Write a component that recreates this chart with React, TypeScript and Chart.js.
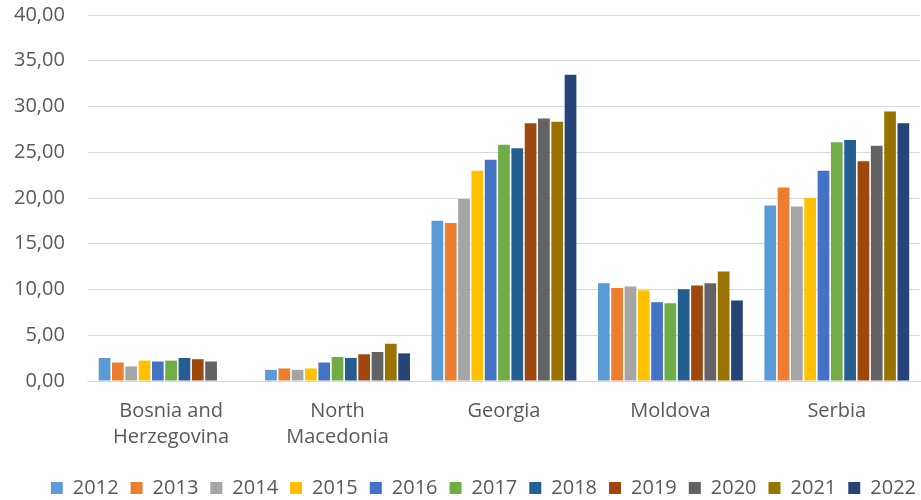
import React, { useEffect, useRef } from "react";
import { Chart, registerables } from "chart.js";

Chart.register(...registerables);

const categories: (string | string[])[] = [
  ["Bosnia and", "Herzegovina"],
  ["North", "Macedonia"],
  "Georgia",
  "Moldova",
  "Serbia",
];

const years = ["2012", "2013", "2014", "2015", "2016", "2017", "2018", "2019", "2020", "2021", "2022"];

// values per year across [Bosnia, North Macedonia, Georgia, Moldova, Serbia]
const v2012 = [2.52, 1.22, 17.52, 10.69, 19.19];
const v2013 = [2.02, 1.37, 17.27, 10.17, 21.16];
const v2014 = [1.59, 1.22, 19.89, 10.33, 19.08];
const v2015 = [2.23, 1.37, 22.98, 9.92, 20.0];
const v2016 = [2.13, 2.02, 24.18, 8.61, 22.98];
const v2017 = [2.23, 2.63, 25.81, 8.5, 26.1];
const v2018 = [2.52, 2.52, 25.45, 10.03, 26.33];
const v2019 = [2.38, 2.92, 28.18, 10.44, 24.03];
const v2020 = [2.13, 3.17, 28.68, 10.69, 25.7];
const v2021 = [null, 4.07, 28.32, 11.96, 29.44];
const v2022 = [null, 3.02, 33.48, 8.8, 28.18];

const seriesValues = [v2012, v2013, v2014, v2015, v2016, v2017, v2018, v2019, v2020, v2021, v2022];

const colors = [
  "#5B9BD5", "#ED7D31", "#A5A5A5", "#FFC000", "#4472C4", "#70AD47",
  "#255E91", "#9E480E", "#636363", "#997300", "#264478",
];

const yTicks = [0, 5, 10, 15, 20, 25, 30, 35, 40];

const shiftLegend = {
  id: "shiftLegend",
  afterLayout(chart: any) {
    if (chart.legend) {
      chart.legend.left += 8;
      chart.legend.right += 8;
    }
  },
};

export default function App() {
  const ref = useRef<HTMLCanvasElement | null>(null);

  useEffect(() => {
    document.body.style.margin = "0";
    if (!ref.current) return;
    const font = "'Open Sans', 'DejaVu Sans', sans-serif";
    const chart = new Chart(ref.current, {
      type: "bar",
      data: {
        labels: categories,
        datasets: years.map((y, i) => ({
          label: y,
          data: seriesValues[i],
          backgroundColor: colors[i],
          borderWidth: 0,
          categoryPercentage: 0.88,
          barPercentage: 0.88,
        })),
      },
      plugins: [shiftLegend],
      options: {
        responsive: false,
        animation: false,
        layout: { padding: { top: 15, right: 1, left: 14, bottom: -8 } },
        plugins: {
          tooltip: { enabled: false },
          legend: {
            position: "bottom",
            align: "end",
            labels: {
              boxWidth: 12,
              boxHeight: 12,
              padding: 12,
              color: "#595959",
              font: { family: font, size: 20 },
            },
          },
        },
        scales: {
          x: {
            grid: { display: false },
            border: { display: true, color: "#d9d9d9", width: 1 },
            afterFit: (scale: any) => {
              scale.height += 7;
            },
            ticks: {
              color: "#595959",
              font: { family: font, size: 20, lineHeight: 1.3 },
              padding: 9,
              maxRotation: 0,
              autoSkip: false,
            },
          },
          y: {
            min: 0,
            max: 40,
            afterBuildTicks: (axis: any) => {
              axis.ticks = yTicks.map((v) => ({ value: v }));
            },
            grid: { color: "#d9d9d9", drawTicks: true, tickLength: 23, tickColor: "rgba(0,0,0,0)" },
            border: { display: false },
            ticks: {
              color: "#595959",
              font: { family: font, size: 20 },
              padding: 0,
              callback: (v: any) => Number(v).toFixed(2).replace(".", ","),
            },
          },
        },
      },
    });
    return () => chart.destroy();
  }, []);

  return <canvas ref={ref} width={921} height={500} style={{ display: "block" }} />;
}
